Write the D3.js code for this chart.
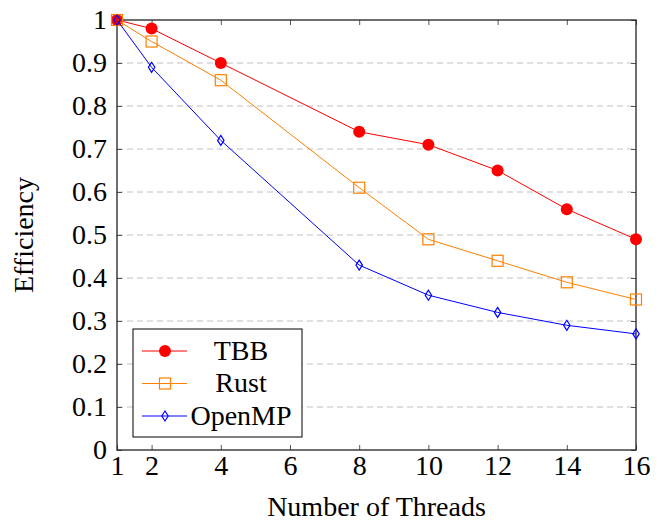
<!DOCTYPE html>
<html>
<head>
<meta charset="utf-8">
<script src="https://cdn.jsdelivr.net/npm/d3@7"></script>
<style>
  body { margin: 0; background: white; }
  svg { display: block; font-family: "Liberation Serif", "DejaVu Serif", serif; }
</style>
</head>
<body>
<div id="chart"></div>
<script>
// data
const threads = [1, 2, 4, 8, 10, 12, 14, 16];
const tbb    = [1.00, 0.98, 0.90, 0.74, 0.71, 0.65, 0.56, 0.49];
const rust   = [1.00, 0.95, 0.86, 0.61, 0.49, 0.44, 0.39, 0.35];
const openmp = [1.00, 0.89, 0.72, 0.43, 0.36, 0.32, 0.29, 0.27];
const xTicks = [1, 2, 4, 6, 8, 10, 12, 14, 16];
const yTicks = [0, 0.1, 0.2, 0.3, 0.4, 0.5, 0.6, 0.7, 0.8, 0.9, 1];

const series = [
  { name: "TBB", values: tbb, color: "#ff0000", marker: "circle" },
  { name: "Rust", values: rust, color: "#ff8000", marker: "square" },
  { name: "OpenMP", values: openmp, color: "#0000ff", marker: "diamond" }
];

const width = 661, height = 521;
const margin = { top: 20, right: 25, bottom: 71, left: 117 };
const iw = width - margin.left - margin.right;
const ih = height - margin.top - margin.bottom;
const fs = 28;
const serif = "'Liberation Serif', 'Times New Roman', serif";

const svg = d3.select("#chart").append("svg")
  .attr("width", width).attr("height", height);
const g = svg.append("g").attr("transform", `translate(${margin.left},${margin.top})`);

const x = d3.scaleLinear().domain([1, 16]).range([0, iw]);
const y = d3.scaleLinear().domain([0, 1]).range([ih, 0]);

// grid lines
g.append("g").selectAll("line").data(yTicks.filter(d => d > 0 && d < 1)).join("line")
  .attr("x1", 0).attr("x2", iw)
  .attr("y1", d => y(d)).attr("y2", d => y(d))
  .attr("stroke", "#c0c0c0").attr("stroke-width", 1)
  .attr("stroke-dasharray", "6,4");

// axes with inward ticks
const fmt = d => d === 0 || d === 1 ? String(d) : d3.format(".1f")(d);
const xAxis = g.append("g").attr("transform", `translate(0,${ih})`)
  .call(d3.axisBottom(x).tickValues(xTicks).tickSizeInner(-5).tickSizeOuter(0).tickPadding(5));
const yAxis = g.append("g")
  .call(d3.axisLeft(y).tickValues(yTicks).tickFormat(fmt).tickSizeInner(-5).tickSizeOuter(0).tickPadding(10));
g.append("g").call(d3.axisTop(x).tickValues(xTicks).tickSizeInner(-5).tickSizeOuter(0).tickFormat(""));
g.append("g").attr("transform", `translate(${iw},0)`)
  .call(d3.axisRight(y).tickValues(yTicks).tickSizeInner(-5).tickSizeOuter(0).tickFormat(""));

svg.selectAll(".domain").remove();
svg.selectAll(".tick line").attr("stroke", "#555");
svg.selectAll("g").attr("font-family", serif);
[xAxis, yAxis].forEach(a => a.selectAll("text")
  .style("font-family", serif).attr("font-size", fs).attr("fill", "#000"));

// frame
g.append("rect").attr("width", iw).attr("height", ih)
  .attr("fill", "none").attr("stroke", "#222").attr("stroke-width", 1.3);

// lines and markers
const line = d3.line().x((d, i) => x(threads[i])).y(d => y(d));

function drawMarker(sel, kind, color) {
  if (kind === "circle") {
    sel.append("circle").attr("r", 6).attr("fill", color);
  } else if (kind === "square") {
    sel.append("rect").attr("x", -5.5).attr("y", -5.5).attr("width", 11).attr("height", 11)
      .attr("fill", "none").attr("stroke", color).attr("stroke-width", 1.2);
  } else {
    sel.append("path").attr("d", "M0,-5L3.2,0L0,5L-3.2,0Z")
      .attr("fill", "none").attr("stroke", color).attr("stroke-width", 1.2);
  }
}

series.forEach(s => {
  g.append("path").datum(s.values).attr("d", line)
    .attr("fill", "none").attr("stroke", s.color).attr("stroke-width", 1);
  s.values.forEach((v, i) => {
    const m = g.append("g").attr("transform", `translate(${x(threads[i])},${y(v)})`);
    drawMarker(m, s.marker, s.color);
  });
});

// legend
const leg = svg.append("g").attr("transform", "translate(133,329)");
leg.append("rect").attr("width", 169).attr("height", 108)
  .attr("fill", "white").attr("stroke", "#000").attr("stroke-width", 1);
series.forEach((s, i) => {
  const row = leg.append("g").attr("transform", `translate(0,${22 + i * 32.5})`);
  row.append("line").attr("x1", 9).attr("x2", 54).attr("stroke", s.color).attr("stroke-width", 1);
  drawMarker(row.append("g").attr("transform", "translate(32,0)"), s.marker, s.color);
  row.append("text").attr("x", 108).attr("y", 8.5).attr("text-anchor", "middle")
    .style("font-family", serif).attr("font-size", fs).text(s.name);
});

// axis titles
svg.append("text").attr("x", margin.left + iw / 2).attr("y", 516)
  .attr("text-anchor", "middle").style("font-family", serif).attr("font-size", fs).text("Number of Threads");
svg.append("text").attr("transform", `translate(33,${margin.top + ih / 2}) rotate(-90)`)
  .attr("text-anchor", "middle").style("font-family", serif).attr("font-size", fs).text("Efficiency");
</script>
</body>
</html>
